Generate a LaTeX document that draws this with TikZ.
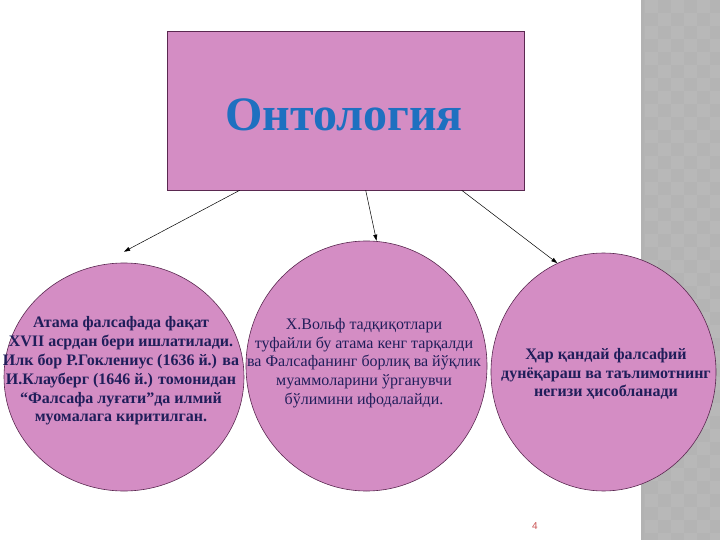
\documentclass[tikz,border=0pt]{standalone}
\usepackage{fontspec}
\setmainfont{Liberation Serif}
\newfontfamily\pagefont{Liberation Sans}
\usetikzlibrary{shapes.geometric,arrows.meta}
\definecolor{ontpink}{RGB}{212,141,196}
\definecolor{ontedge}{RGB}{90,40,80}
\definecolor{ontblue}{RGB}{30,112,192}
\definecolor{ontnavy}{RGB}{32,30,90}
\definecolor{stripgray}{RGB}{180,180,180}
\definecolor{pagered}{RGB}{200,80,80}

\begin{document}
\begin{tikzpicture}
[
  x=1pt, y=-1pt,
  box/.style = {draw=ontedge, fill=ontpink, line width=0.6pt, inner sep=0pt},
  bubble/.style = {ellipse, draw=ontedge, fill=ontpink, line width=0.6pt, inner sep=0pt},
  txt/.style = {text=ontnavy, align=center, inner sep=0pt, font=\fontsize{16}{18.8}\selectfont},
  boldtxt/.style = {txt, font=\fontsize{16}{18.8}\selectfont\bfseries},
  link/.style = {-{Triangle[length=6pt,width=4pt]}, line width=0.5pt},
]
\useasboundingbox (0,0) rectangle (720,540);

%strip at the right
\fill[stripgray] (641,0) rectangle (720,540);
\foreach \i in {0,...,5}
  \foreach \j in {0,...,41}
  {
    \pgfmathparse{int(mod(\i+\j,2))}
    \ifnum\pgfmathresult=0
      \fill[white,opacity=0.06] (645+13*\i,13*\j) rectangle +(13,13);
    \fi
  }
\fill[gray!60] (641,0) rectangle (644,540);

%title
\node[box, minimum width=357pt, minimum height=159pt] (title) at (345.5,110.5) {};
\node[text=ontblue, font=\fontsize{48}{50}\selectfont\bfseries] (titletxt) at (344,115) {Онтология};

%three circles
\node[bubble, minimum width=240pt, minimum height=228pt] (left) at (124,377) {};
\node[bubble, minimum width=241pt, minimum height=250pt] (mid) at (366.5,366) {};
\node[bubble, minimum width=225pt, minimum height=238pt] (right) at (603.5,372) {};

\node[boldtxt] (lefttxt) at (121,371)
  {Атама фалсафада фақат\\XVII асрдан бери ишлатилади.\\Илк бор Р.Гоклениус (1636 й.) ва\\И.Клауберг (1646 й.) томонидан\\“Фалсафа луғати”да илмий\\муомалага киритилган.};
\node[txt] (midtxt) at (364,363)
  {Х.Вольф тадқиқотлари\\туфайли бу атама кенг тарқалди\\ва Фалсафанинг борлиқ ва йўқлик\\муаммоларини ўрганувчи\\бўлимини ифодалайди.};
\node[boldtxt] (righttxt) at (606,374)
  {Ҳар қандай фалсафий\\дунёқараш ва таълимотнинг\\негизи ҳисобланади};

%arrows
\draw[link] ([xshift=73pt]title.south west) -- ([yshift=11pt]left.north);
\draw[link] ([xshift=199pt]title.south west) -- ([xshift=10pt]mid.north);
\draw[link] ([xshift=295pt]title.south west) -- (right.113);

\node[text=pagered, font=\pagefont\fontsize{10}{12}\selectfont] (pagenum) at (535,526) {4};
\end{tikzpicture}
\end{document}
